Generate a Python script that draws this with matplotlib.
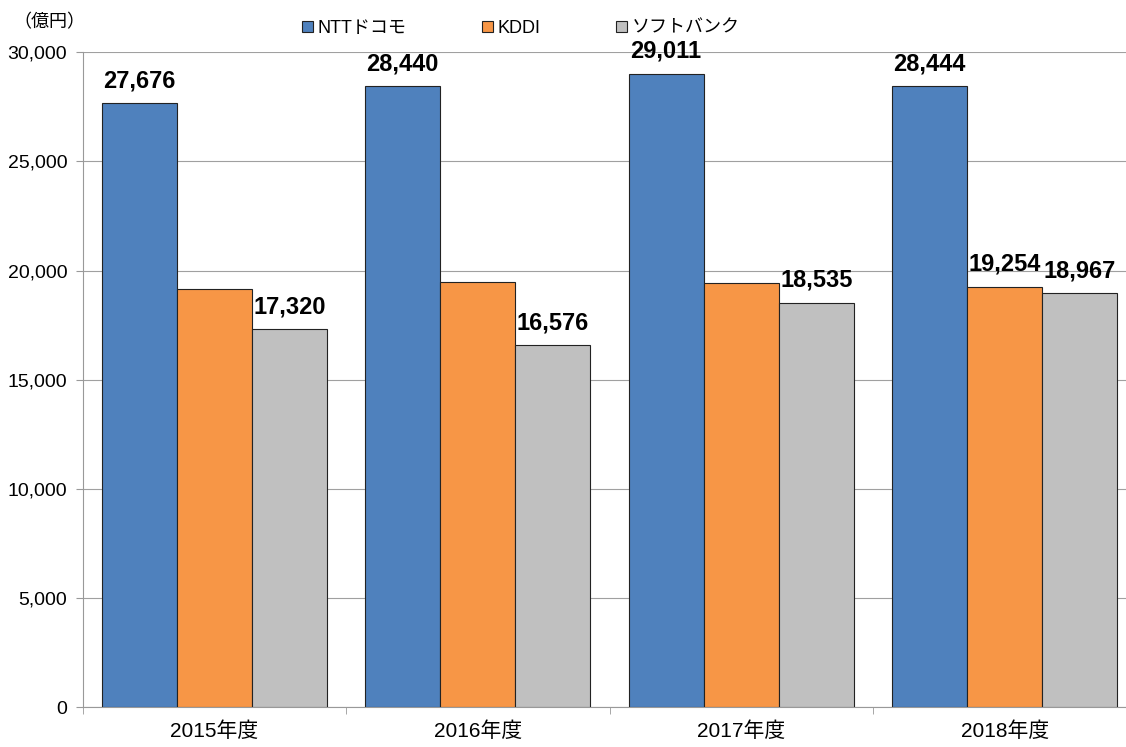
import matplotlib.pyplot as plt
import numpy as np

plt.rcParams['font.family'] = ['Liberation Sans', 'Noto Sans CJK JP', 'DejaVu Sans']

years = ["2015年度", "2016年度", "2017年度", "2018年度"]
series_names = ["NTTドコモ", "KDDI", "ソフトバンク"]
docomo = [27676, 28440, 29011, 28444]
kddi = [19150, 19470, 19420, 19254]
softbank = [17320, 16576, 18535, 18967]

# which values get a label (the chart only labels some of them)
docomo_labels = [True, True, True, True]
kddi_labels = [False, False, False, True]
softbank_labels = [True, True, True, True]

colors = ["#4F81BD", "#F79646", "#C0C0C0"]

fig = plt.figure(figsize=(11.26, 7.47), dpi=100)
# plot area runs a little past the right edge of the picture, as in the original
ax = fig.add_axes([0.0733, 0.0535, 0.936, 0.8765])

x = np.arange(len(years))
w = 0.285
all_series = [docomo, kddi, softbank]
all_labels = [docomo_labels, kddi_labels, softbank_labels]
for i, (vals, show, c, name) in enumerate(zip(all_series, all_labels, colors, series_names)):
    pos = x + (i - 1) * w
    ax.bar(pos, vals, width=w, color=c, edgecolor="#222222", linewidth=0.8,
           label=name, zorder=3)
    for p, v, s in zip(pos, vals, show):
        if s:
            ax.text(p, v + 500, f"{v:,}", ha="center", va="bottom",
                    fontsize=17, fontweight="bold", zorder=4)

ax.set_xlim(-0.5, 3.5)
ax.set_ylim(0, 30000)
ax.set_yticks(range(0, 30001, 5000))
ax.set_yticklabels([f"{v:,}" for v in range(0, 30001, 5000)], fontsize=14)
ax.set_xticks(x)
ax.set_xticklabels(years, fontsize=15)
ax.tick_params(axis="x", length=0, pad=10)
ax.set_xticks(np.arange(-0.5, 4.0, 1.0), minor=True)
ax.tick_params(axis="x", which="minor", length=5, color="#999999", direction="out")
ax.tick_params(axis="y", length=5, color="#999999", pad=6)
ax.grid(axis="y", color="#A0A0A0", linewidth=0.8, zorder=0)
ax.axhline(30000, color="#C8D2DE", linewidth=1.2, zorder=1)

for side in ["top", "right"]:
    ax.spines[side].set_visible(False)
for side in ["left", "bottom"]:
    ax.spines[side].set_color("#999999")

fig.text(0.012, 0.97, "（億円）", fontsize=13, ha="left", va="center")

fig.legend(loc="center left", bbox_to_anchor=(0.268, 0.962), ncol=3, frameon=False,
           fontsize=13, handlelength=0.6, handleheight=0.6, handletextpad=0.25,
           columnspacing=4.2, borderpad=0, borderaxespad=0)

plt.savefig("out.png", dpi=100)
